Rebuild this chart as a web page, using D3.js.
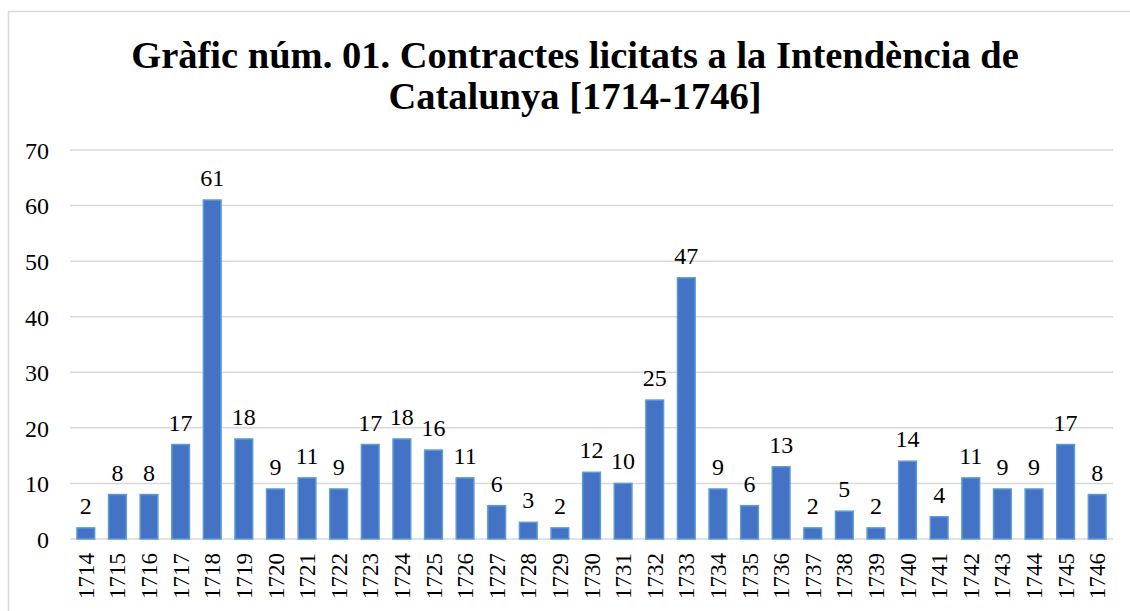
<!DOCTYPE html>
<html>
<head>
<meta charset="utf-8">
<script src="https://cdn.jsdelivr.net/npm/d3@7"></script>
<style>
  body { margin: 0; background: #fff; }
  svg { display: block; font-family: "Liberation Serif", "Times New Roman", serif; }
  svg text { font-family: "Liberation Serif", "Times New Roman", serif; }
  .tick text, .label { font-size: 24px; }
</style>
</head>
<body>
<svg></svg>
<script>
// Data
const years = ["1714","1715","1716","1717","1718","1719","1720","1721","1722","1723","1724",
  "1725","1726","1727","1728","1729","1730","1731","1732","1733","1734","1735","1736",
  "1737","1738","1739","1740","1741","1742","1743","1744","1745","1746"];
const contracts = [2, 8, 8, 17, 61, 18, 9, 11, 9, 17, 18, 16, 11, 6, 3, 2, 12, 10, 25, 47,
  9, 6, 13, 2, 5, 2, 14, 4, 11, 9, 9, 17, 8];
const yTicks = [0, 10, 20, 30, 40, 50, 60, 70];
const titleLines = ["Gràfic núm. 01. Contractes licitats a la Intendència de", "Catalunya [1714-1746]"];

const width = 1130;
const height = 611;
const margin = { top: 150, right: 17, bottom: 72, left: 70 };

const svg = d3.select("svg")
  .attr("width", width)
  .attr("height", height);

// outer frame (right and bottom edges run off the picture)
svg.append("rect")
  .attr("x", 8.5).attr("y", 11.5)
  .attr("width", 1140).attr("height", 620)
  .attr("fill", "none")
  .attr("stroke", "#d9d9d9")
  .attr("stroke-width", 1.5);

// Title
svg.append("text")
  .attr("text-anchor", "middle")
  .style("font-weight", "bold")
  .style("font-size", "38.5px")
  .selectAll("tspan")
  .data(titleLines)
  .enter()
  .append("tspan")
  .attr("x", 575)
  .attr("y", (d, i) => 68 + i * 41)
  .text(d => d);

const chartWidth = width - margin.left - margin.right;
const chartHeight = height - margin.top - margin.bottom;

const chart = svg.append("g")
  .attr("transform", `translate(${margin.left}, ${margin.top})`);

const xScale = d3.scaleBand()
  .domain(years)
  .range([0, chartWidth])
  .paddingInner(0.44)
  .paddingOuter(0.22);

const yScale = d3.scaleLinear()
  .domain([0, 70])
  .range([chartHeight, 0]);

// gridlines
chart.append("g")
  .selectAll("line")
  .data(yTicks)
  .enter()
  .append("line")
  .attr("x1", 0)
  .attr("x2", chartWidth)
  .attr("y1", d => yScale(d))
  .attr("y2", d => yScale(d))
  .attr("stroke", "#d9d9d9")
  .attr("stroke-width", 1.5);

// y axis
const yAxis = chart.append("g")
  .attr("transform", "translate(-21, 0)")
  .call(d3.axisLeft(yScale).tickValues(yTicks).tickSize(0).tickPadding(0));
yAxis.select(".domain").remove();
yAxis.selectAll("text")
  .attr("fill", "#000")
  .attr("dy", "0.35em");

// x axis
const xAxis = chart.append("g")
  .attr("transform", `translate(0, ${chartHeight})`)
  .call(d3.axisBottom(xScale).tickSize(0).tickPadding(0));
xAxis.select(".domain").remove();
xAxis.selectAll("text")
  .style("font-size", "23px")
  .attr("fill", "#000")
  .attr("text-anchor", "end")
  .attr("transform", "translate(0, 14) rotate(-90)")
  .attr("dy", "0.35em")
  .attr("y", 0)
  .attr("x", 0);

// bars
chart.selectAll(".bar")
  .data(contracts)
  .enter()
  .append("rect")
  .attr("class", "bar")
  .attr("x", (d, i) => xScale(years[i]))
  .attr("y", d => yScale(d))
  .attr("width", xScale.bandwidth())
  .attr("height", d => chartHeight - yScale(d))
  .attr("fill", "#4472c4")
  .attr("stroke", "#5b9bd5")
  .attr("stroke-width", 1.5);

// value labels
chart.selectAll(".label")
  .data(contracts)
  .enter()
  .append("text")
  .attr("class", "label")
  .attr("x", (d, i) => xScale(years[i]) + xScale.bandwidth() / 2)
  .attr("y", d => yScale(d) - 14)
  .attr("text-anchor", "middle")
  .attr("fill", "#000")
  .text(d => d);
</script>
</body>
</html>
